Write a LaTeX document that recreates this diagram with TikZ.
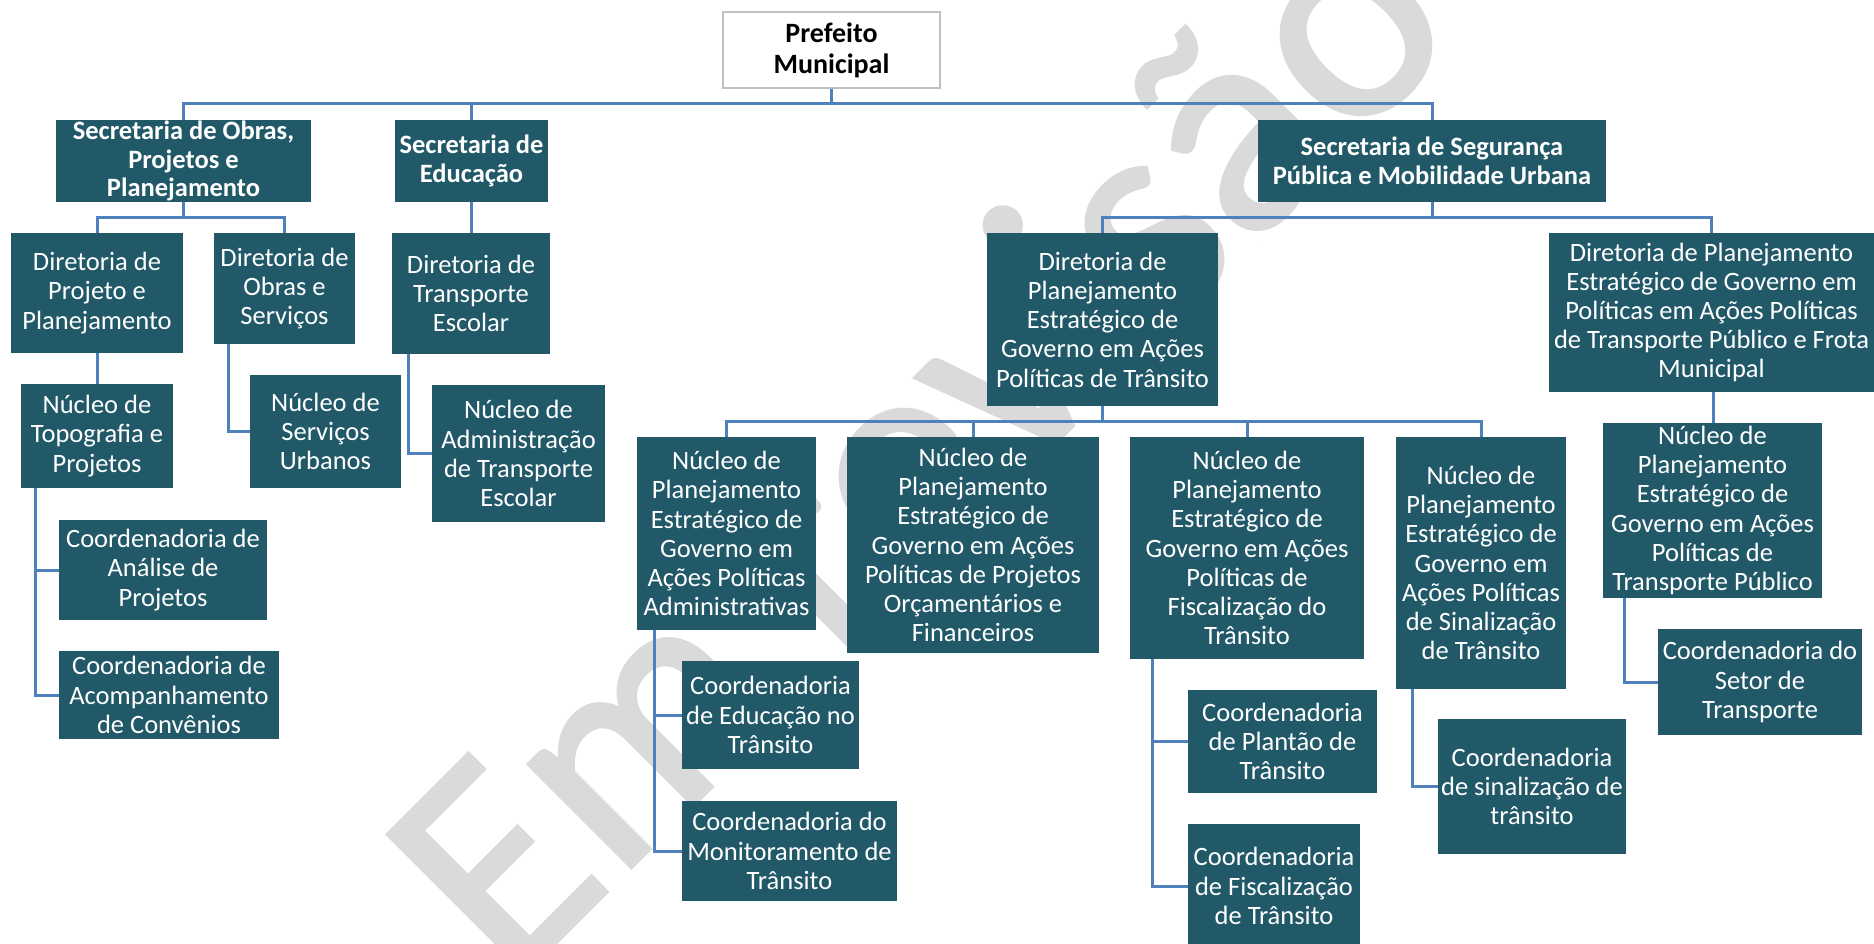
\documentclass[tikz,border=0pt]{standalone}
\usepackage{fontspec}
\setmainfont{Carlito}
\newfontfamily\wmfont{Carlito}[FakeBold=1.2]
\definecolor{boxc}{HTML}{215968}
\definecolor{linec}{HTML}{4F81BD}
\definecolor{wmc}{HTML}{DADADA}
\tikzset{
 orgbox/.style={fill=boxc, text=white, inner sep=0pt, align=center, font=\fontsize{26.5}{29.2}\selectfont},
 secbox/.style={orgbox, font=\fontsize{26.5}{28.6}\selectfont\bfseries},
 topbox/.style={fill=white, draw=black!25, line width=1.5pt, text=black, inner sep=0pt, align=center, font=\fontsize{28}{31}\selectfont\bfseries},
 conn/.style={draw=linec, line width=3pt},
 wmark/.style={text=wmc, inner sep=0pt, font=\wmfont\fontsize{305}{305}\selectfont},
}
\newcommand\bx[6]{\node[#1, minimum width={#4-#2}, minimum height={#5-#3}] (#6) at ({(#2+#4)/2},{(#3+#5)/2})}
\begin{document}
\begin{tikzpicture}[x=1pt,y=-1pt]
\useasboundingbox (0,0) rectangle (1874,944);
\node[wmark, rotate=45] (wm) at (914,438) {Em revisão};
% level 0
\bx{topbox}{723}{12}{940}{88}{pm} {Prefeito\\Municipal};
% secretarias
\bx{secbox}{56}{120}{311}{202}{s1} {Secretaria de Obras,\\Projetos e\\Planejamento};
\bx{secbox}{395}{120}{548}{202}{s2} {Secretaria de\\Educação};
\bx{secbox}{1258}{120}{1606}{202}{s3} {Secretaria de Segurança\\Pública e Mobilidade Urbana};
% diretorias
\bx{orgbox}{11}{233}{183}{353}{d1} {Diretoria de\\Projeto e\\Planejamento};
\bx{orgbox}{214}{233}{355}{344}{d2} {Diretoria de\\Obras e\\Serviços};
\bx{orgbox}{392}{233}{550}{354}{d3} {Diretoria de\\Transporte\\Escolar};
\bx{orgbox}{987}{233}{1218}{406}{d4} {Diretoria de\\Planejamento\\Estratégico de\\Governo em Ações\\Políticas de Trânsito};
\bx{orgbox}{1549}{233}{1874}{392}{d5} {Diretoria de Planejamento\\Estratégico de Governo em\\Políticas em Ações Políticas\\de Transporte Público e Frota\\Municipal};
% nucleos
\bx{orgbox}{21}{384}{173}{488}{n1} {Núcleo de\\Topografia e\\Projetos};
\bx{orgbox}{250}{375}{401}{488}{n2} {Núcleo de\\Serviços\\Urbanos};
\bx{orgbox}{432}{385}{605}{522}{n3} {Núcleo de\\Administração\\de Transporte\\Escolar};
\bx{orgbox}{637}{437}{816}{630}{n4} {Núcleo de\\Planejamento\\Estratégico de\\Governo em\\Ações Políticas\\Administrativas};
\bx{orgbox}{847}{437}{1099}{653}{n5} {Núcleo de\\Planejamento\\Estratégico de\\Governo em Ações\\Políticas de Projetos\\Orçamentários e\\Financeiros};
\bx{orgbox}{1130}{437}{1364}{659}{n6} {Núcleo de\\Planejamento\\Estratégico de\\Governo em Ações\\Políticas de\\Fiscalização do\\Trânsito};
\bx{orgbox}{1396}{437}{1566}{689}{n7} {Núcleo de\\Planejamento\\Estratégico de\\Governo em\\Ações Políticas\\de Sinalização\\de Trânsito};
\bx{orgbox}{1603}{423}{1822}{598}{n8} {Núcleo de\\Planejamento\\Estratégico de\\Governo em Ações\\Políticas de\\Transporte Público};
% coordenadorias
\bx{orgbox}{59}{520}{267}{620}{c1} {Coordenadoria de\\Análise de\\Projetos};
\bx{orgbox}{59}{651}{279}{739}{c2} {Coordenadoria de\\Acompanhamento\\de Convênios};
\bx{orgbox}{682}{661}{859}{769}{c3} {Coordenadoria\\de Educação no\\Trânsito};
\bx{orgbox}{682}{801}{897}{901}{c4} {Coordenadoria do\\Monitoramento de\\Trânsito};
\bx{orgbox}{1188}{690}{1377}{793}{c5} {Coordenadoria\\de Plantão de\\Trânsito};
\bx{orgbox}{1188}{824}{1360}{948}{c6} {Coordenadoria\\de Fiscalização\\de Trânsito};
\bx{orgbox}{1438}{719}{1626}{854}{c7} {Coordenadoria\\de sinalização de\\trânsito};
\bx{orgbox}{1658}{629}{1862}{735}{c8} {Coordenadoria do\\Setor de\\Transporte};
% connectors
\foreach \c in {s1,s2,s3} \draw[conn] (pm.south) -- ++(0,15) -| (\c.north);
\foreach \c in {d1,d2} \draw[conn] (s1.south) -- ++(0,15) -| (\c.north);
\draw[conn] (s2.south) -- (s2.south |- d3.north);
\foreach \c in {d4,d5} \draw[conn] (s3.south) -- ++(0,15) -| (\c.north);
\draw[conn] (d1.south) -- (d1.south |- n1.north);
\draw[conn] ([xshift=15]d2.south west) |- (n2.west);
\draw[conn] ([xshift=16.5]d3.south west) |- (n3.west);
\foreach \c in {c1,c2} \draw[conn] ([xshift=15]n1.south west) |- (\c.west);
\foreach \c in {n4,n5,n6,n7} \draw[conn] (d4.south) -- ++(0,15) -| (\c.north);
\foreach \c in {c3,c4} \draw[conn] ([xshift=18]n4.south west) |- (\c.west);
\foreach \c in {c5,c6} \draw[conn] ([xshift=23]n6.south west) |- (\c.west);
\draw[conn] ([xshift=17]n7.south west) |- (c7.west);
\draw[conn] ([xshift=1.5]d5.south) -- ([xshift=1.5]d5.south |- n8.north);
\draw[conn] ([xshift=22]n8.south west) |- (c8.west);
\end{tikzpicture}
\end{document}
